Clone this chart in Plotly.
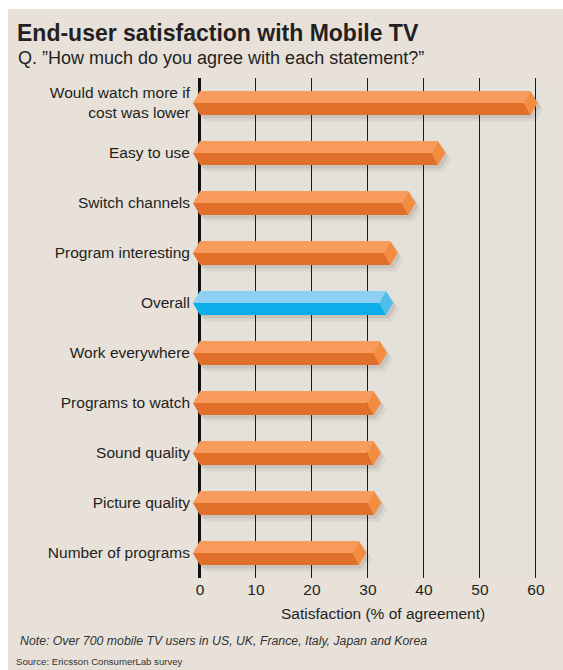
import plotly.graph_objects as go

# ---------------- data ----------------
categories = [
    "Would watch more if<br>cost was lower",
    "Easy to use",
    "Switch channels",
    "Program interesting",
    "Overall",
    "Work everywhere",
    "Programs to watch",
    "Sound quality",
    "Picture quality",
    "Number of programs",
]
values = [59, 42.5, 37.2, 34.0, 33.2, 32.1, 31.0, 31.0, 31.1, 28.4]
highlight = "Overall"
x_ticks = [0, 10, 20, 30, 40, 50, 60]

title = "End-user satisfaction with Mobile TV"
subtitle = "Q. \u201dHow much do you agree with each statement?\u201d"
x_title = "Satisfaction (% of agreement)"
note = "Note: Over 700 mobile TV users in US, UK, France, Italy, Japan and Korea"
source = "Source: Ericsson ConsumerLab survey"

# ---------------- styling ----------------
W, H = 563, 670
ML, MR, MT, MB = 191, 15, 78, 92
PW, PH = W - ML - MR, H - MT - MB
PX_PER_UNIT = 5.6
X0 = -1.6
X1 = X0 + PW / PX_PER_UNIT

orange = dict(top="#F89B5C", front="#E06F29", cap="#F48C3F")
blue = dict(top="#8ED0F3", front="#0BAEE8", cap="#4CBEEC")
TEXT = "#231F20"
FONT = "Liberation Sans, Arial, Helvetica, sans-serif"

h = 0.24        # half thickness (category units)
tip_left = -1.25
cap_back = 1.1
cap_front = 1.3

fig = go.Figure()


def poly(xs, ys, color):
    fig.add_trace(go.Scatter(
        x=xs + [xs[0]], y=ys + [ys[0]], mode="lines", fill="toself",
        fillcolor=color, line=dict(width=0, color=color),
        hoverinfo="skip", showlegend=False))


ypos = list(range(len(categories)))

# shadows
for yi, v in zip(ypos, values):
    for dx, dy, a in [(1.0, 0.13, 0.06), (0.5, 0.07, 0.10)]:
        xs = [tip_left + dx, 0 + dx, v + dx, v + cap_front + dx, v + dx, 0 + dx]
        ys = [yi + dy, yi - h + dy, yi - h + dy, yi + dy, yi + h + dy, yi + h + dy]
        poly(xs, ys, f"rgba(70,50,30,{a})")

# bars
for cat, yi, v in zip(categories, ypos, values):
    c = blue if cat == highlight else orange
    poly([tip_left, 0, v, v - cap_back], [yi, yi - h, yi - h, yi], c["top"])
    poly([tip_left, v - cap_back, v, 0], [yi, yi, yi + h, yi + h], c["front"])
    poly([v - cap_back, v, v + cap_front, v], [yi, yi - h, yi, yi + h], c["cap"])


def px_x(px):
    return (px - ML) / PW


def px_y(py):
    return (H - MB - py) / PH


annotations = [
    dict(text=f"<b>{title}</b>", x=px_x(15), y=px_y(33), xanchor="left", yanchor="middle",
         font=dict(size=23, color=TEXT, family=FONT)),
    dict(text=subtitle, x=px_x(16), y=px_y(58), xanchor="left", yanchor="middle",
         font=dict(size=18, color=TEXT, family=FONT)),
    dict(text=x_title, x=px_x(383), y=px_y(613), xanchor="center", yanchor="middle",
         font=dict(size=15.5, color=TEXT, family=FONT)),
    dict(text=f"<i>{note}</i>", x=px_x(18), y=px_y(641), xanchor="left", yanchor="middle",
         font=dict(size=12.3, color="#333333", family=FONT)),
    dict(text=source, x=px_x(14), y=px_y(661), xanchor="left", yanchor="middle",
         font=dict(size=9.6, color="#333333", family=FONT)),
]
for a in annotations:
    a.update(xref="paper", yref="paper", showarrow=False)

shapes = [
    dict(type="rect", xref="paper", yref="paper", layer="below",
         x0=px_x(8), x1=px_x(W + 5), y0=px_y(H + 5), y1=px_y(9),
         fillcolor="#E7E1DA", line=dict(width=0)),
    dict(type="rect", xref="paper", yref="paper", layer="below",
         x0=px_x(193), x1=px_x(548), y0=px_y(577), y1=px_y(86),
         fillcolor="#E4E0DA", line=dict(width=0)),
]

fig.update_layout(
    width=W, height=H,
    margin=dict(l=ML, r=MR, t=MT, b=MB, pad=0),
    paper_bgcolor="white",
    plot_bgcolor="rgba(0,0,0,0)",
    showlegend=False,
    annotations=annotations,
    shapes=shapes,
    xaxis=dict(
        range=[X0, X1], tickvals=x_ticks, ticktext=[str(t) for t in x_ticks],
        showgrid=True, gridcolor="#1A1A1A", gridwidth=1,
        zeroline=True, zerolinecolor="#111111", zerolinewidth=3,
        showline=False, ticks="", fixedrange=True,
        tickfont=dict(size=15.5, color=TEXT, family=FONT),
    ),
    yaxis=dict(
        range=[len(categories) - 0.5, -0.5], tickvals=ypos, ticktext=categories,
        showgrid=False, zeroline=False, showline=False, ticks="",
        tickfont=dict(size=15.5, color=TEXT, family=FONT), fixedrange=True,
    ),
)

fig.write_html("out.html")
